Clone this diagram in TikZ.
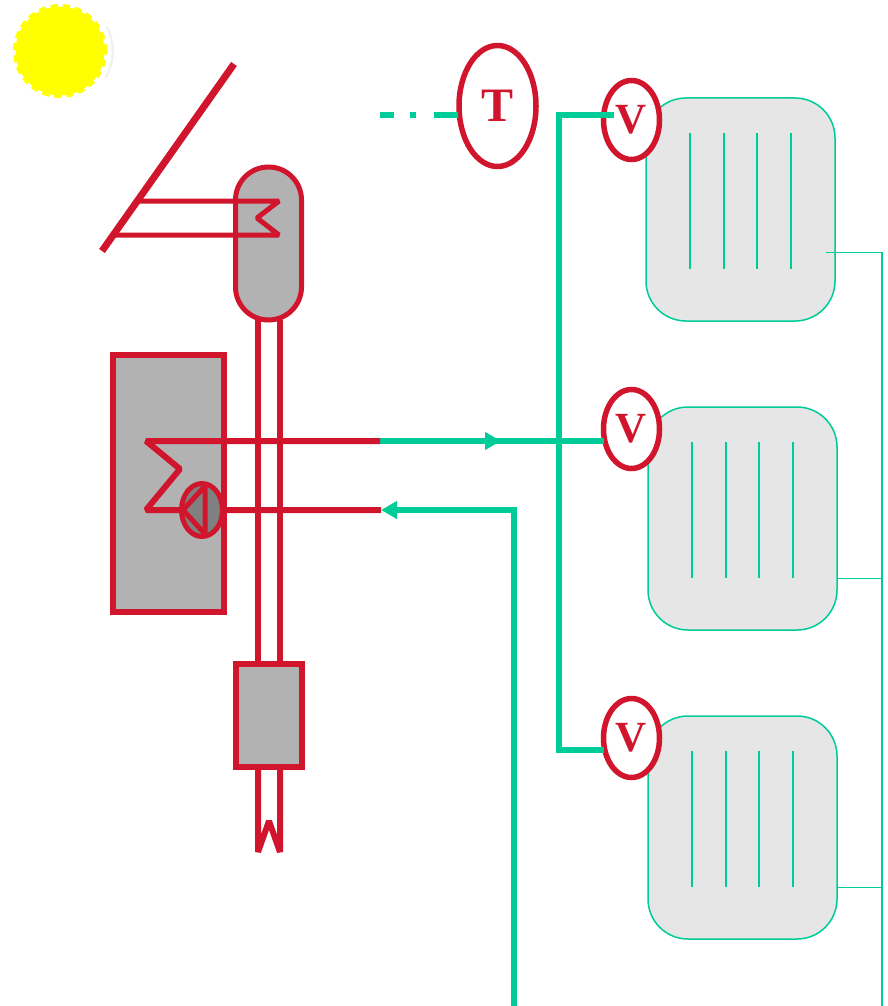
\documentclass[tikz,border=0pt]{standalone}
\usepackage{fontspec}
\setmainfont{Liberation Serif}
\usetikzlibrary{shapes.geometric,arrows.meta}
\definecolor{rd}{HTML}{D0152D}
\definecolor{gn}{HTML}{00CC99}
\definecolor{eqgray}{HTML}{B2B2B2}
\definecolor{radgray}{HTML}{E6E6E6}
\definecolor{sunyellow}{HTML}{FFFF00}
\tikzset{
  redline/.style={draw=rd,line width=6pt},
  loopline/.style={draw=rd,line width=5pt,line join=bevel},
  greenline/.style={draw=gn,line width=6pt},
  thinline/.style={draw=gn,line width=1.8pt},
  gauge/.style={ellipse,draw=rd,line width=5.5pt,fill=white,inner sep=0pt,outer sep=0pt,text=rd,font=\fontsize{43}{43}\selectfont\bfseries},
  radiator/.style={rectangle,rounded corners=40pt,draw=gn,line width=1.5pt,fill=radgray,minimum width=189pt,minimum height=223pt,inner sep=0pt,outer sep=0pt},
  equip/.style={rectangle,draw=rd,line width=5.5pt,fill=eqgray,inner sep=0pt,outer sep=0pt},
  flowtip/.style={-{Triangle[length=16pt,width=17pt]}}
}
\begin{document}
\begin{tikzpicture}[x=1pt,y=-1pt]
\useasboundingbox (0,0) rectangle (888,1006);
% sun
\begin{scope}
\clip (100,28) rectangle (118,78);
\fill[black!6] (62,51) circle (52);
\fill[white] (59.5,51) circle (52);
\end{scope}
\node[circle,fill=sunyellow,draw=sunyellow,line width=5pt,dash pattern=on 7pt off 5pt,minimum size=89pt,inner sep=0pt,outer sep=0pt] (sun) at (60,51) {};
% radiators
\node[radiator] (r1) at (740.5,209.5) {};
\node[radiator] (r2) at (742.5,518.5) {};
\node[radiator] (r3) at (742.5,827.5) {};
\foreach \x in {690,724,757,791} \draw[thinline] (\x,133) -- (\x,269);
\foreach \x in {692,726,759,793} {
  \draw[thinline] (\x,442) -- (\x,578);
  \draw[thinline] (\x,751) -- (\x,887);
}
% return manifold
\coordinate (manTop) at (882,252.5);
\coordinate (manBot) at (882,1006);
\coordinate (m2) at (882,578.5);
\coordinate (m3) at (882,887.5);
\coordinate (r1out) at (826,252.5);
\coordinate (r2out) at (837,578.5);
\coordinate (r3out) at (837,887.5);
\draw[thinline] (r1out) -- (manTop) -- (manBot);
\draw[thinline] (r2out) -- (m2);
\draw[thinline] (r3out) -- (m3);
% gauges
\node[gauge,minimum width=77pt,minimum height=121pt,font=\fontsize{48}{48}\selectfont\bfseries] (T) at (497.5,106) {\raisebox{-4pt}{T}};
\node[gauge,minimum width=56pt,minimum height=79pt] (V1) at (631.5,120) {\raisebox{-2pt}{V}};
\node[gauge,minimum width=56pt,minimum height=79pt] (V2) at (631.5,429) {\raisebox{-2pt}{V}};
\node[gauge,minimum width=56pt,minimum height=79pt] (V3) at (631.5,738) {\raisebox{-2pt}{V}};
% green pipework
\coordinate (dashStart) at (380,115);
\coordinate (dashEnd) at (458,115);
\coordinate (sTop) at (558.5,115);
\coordinate (sV1) at (614,115);
\coordinate (sBot) at (558.5,749.5);
\coordinate (sV3) at (604,749.5);
\coordinate (hot) at (380,441);
\coordinate (sV2) at (604,441);
\coordinate (arrowHead) at (501,441);
\coordinate (cold) at (381,510);
\coordinate (coldCorner) at (514,510);
\coordinate (coldBot) at (514,1006);
\draw[greenline,dash pattern=on 14pt off 16pt on 6pt off 18pt on 24pt off 0pt] (dashStart) -- (dashEnd);
\draw[greenline,line join=miter] (sV1) -- (sTop) -- (sBot) -- (sV3);
\draw[greenline] (hot) -- (sV2);
\draw[greenline,flowtip] (hot) -- (arrowHead);
\draw[greenline,flowtip,line join=miter] (coldBot) -- (coldCorner) -- (cold);
% double pipe
\draw[redline] (258,320) -- (258,664);
\draw[redline] (280,320) -- (280,664);
% tank
\node[equip,line width=5pt,rounded corners=33pt,minimum width=66pt,minimum height=153pt] (tank) at (268.5,243.5) {};
% collector
\coordinate (cA) at (234,64);
\coordinate (cB) at (102,251);
\draw[redline,line width=7pt] (cA) -- (cB);
\coordinate (l1) at (140,201);
\coordinate (l2) at (279,201);
\coordinate (l3) at (257,218);
\coordinate (l4) at (279,235);
\coordinate (l5) at (115,235);
\draw[loopline] (l1) -- (l2) -- (l3) -- (l4) -- (l5);
% boiler
\node[equip,minimum width=111pt,minimum height=257pt] (boiler) at (168.5,483.5) {};
% lines over pipes
\draw[redline] (258,330) -- (258,664);
\draw[redline] (280,330) -- (280,664);
\coordinate (k1) at (146,441);
\coordinate (k2) at (180,469);
\coordinate (k3) at (146,510);
\draw[redline,line join=bevel] (hot) -- (k1) -- (k2) -- (k3) -- (cold);
% pump
\node[ellipse,draw=rd,line width=5pt,fill=black!50,minimum width=41pt,minimum height=53pt,inner sep=0pt,outer sep=0pt] (pump) at (202,510) {};
\coordinate (p1) at (205,486);
\coordinate (p2) at (205,534);
\coordinate (p3) at (183,510);
\draw[loopline] (p1) -- (p2) -- (p3) -- cycle;
% lower tank
\node[equip,minimum width=66pt,minimum height=103pt] (lower) at (269,715.5) {};
\coordinate (z1) at (258,767);
\coordinate (z2) at (258,852);
\coordinate (z3) at (269,821);
\coordinate (z4) at (280,852);
\coordinate (z5) at (280,767);
\draw[redline,line join=bevel] (z1) -- (z2) -- (z3) -- (z4) -- (z5);
\end{tikzpicture}
\end{document}
